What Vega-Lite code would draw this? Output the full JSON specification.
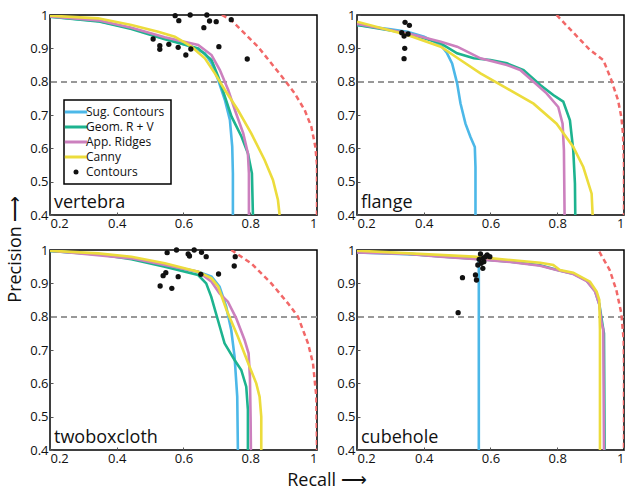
{
  "$schema": "https://vega.github.io/schema/vega-lite/v6.json",
  "padding": {"left": 6, "top": 8, "right": 2, "bottom": 2},
  "config": {
    "font": "Open Sans",
    "view": {"stroke": "#000000", "strokeWidth": 1.5},
    "axis": {"grid": false, "domain": false, "ticks": true, "tickSize": -3, "tickColor": "#555555", "labelFontSize": 13, "labelColor": "#111111", "labelPadding": 5, "title": null, "labelOverlap": false, "format": "~g"},
    "axisY": {"tickCount": 6},
    "axisX": {"tickCount": 4}
  },
  "datasets": {
    "pts": [
      {"p":"vertebra","s":"Sug. Contours","x":0.2,"y":0.995},{"p":"vertebra","s":"Sug. Contours","x":0.344,"y":0.982},{"p":"vertebra","s":"Sug. Contours","x":0.444,"y":0.96},{"p":"vertebra","s":"Sug. Contours","x":0.544,"y":0.93},{"p":"vertebra","s":"Sug. Contours","x":0.624,"y":0.905},{"p":"vertebra","s":"Sug. Contours","x":0.664,"y":0.885},{"p":"vertebra","s":"Sug. Contours","x":0.684,"y":0.855},{"p":"vertebra","s":"Sug. Contours","x":0.704,"y":0.805},{"p":"vertebra","s":"Sug. Contours","x":0.724,"y":0.745},{"p":"vertebra","s":"Sug. Contours","x":0.739,"y":0.685},{"p":"vertebra","s":"Sug. Contours","x":0.746,"y":0.605},{"p":"vertebra","s":"Sug. Contours","x":0.748,"y":0.525},{"p":"vertebra","s":"Sug. Contours","x":0.748,"y":0.4},
      {"p":"vertebra","s":"Geom. R + V","x":0.2,"y":0.995},{"p":"vertebra","s":"Geom. R + V","x":0.344,"y":0.981},{"p":"vertebra","s":"Geom. R + V","x":0.444,"y":0.958},{"p":"vertebra","s":"Geom. R + V","x":0.544,"y":0.927},{"p":"vertebra","s":"Geom. R + V","x":0.644,"y":0.9},{"p":"vertebra","s":"Geom. R + V","x":0.684,"y":0.865},{"p":"vertebra","s":"Geom. R + V","x":0.704,"y":0.815},{"p":"vertebra","s":"Geom. R + V","x":0.724,"y":0.755},{"p":"vertebra","s":"Geom. R + V","x":0.744,"y":0.695},{"p":"vertebra","s":"Geom. R + V","x":0.774,"y":0.635},{"p":"vertebra","s":"Geom. R + V","x":0.793,"y":0.585},{"p":"vertebra","s":"Geom. R + V","x":0.805,"y":0.525},{"p":"vertebra","s":"Geom. R + V","x":0.808,"y":0.4},
      {"p":"vertebra","s":"App. Ridges","x":0.2,"y":0.996},{"p":"vertebra","s":"App. Ridges","x":0.344,"y":0.984},{"p":"vertebra","s":"App. Ridges","x":0.444,"y":0.962},{"p":"vertebra","s":"App. Ridges","x":0.544,"y":0.933},{"p":"vertebra","s":"App. Ridges","x":0.644,"y":0.91},{"p":"vertebra","s":"App. Ridges","x":0.684,"y":0.88},{"p":"vertebra","s":"App. Ridges","x":0.709,"y":0.835},{"p":"vertebra","s":"App. Ridges","x":0.734,"y":0.775},{"p":"vertebra","s":"App. Ridges","x":0.754,"y":0.715},{"p":"vertebra","s":"App. Ridges","x":0.779,"y":0.645},{"p":"vertebra","s":"App. Ridges","x":0.793,"y":0.585},{"p":"vertebra","s":"App. Ridges","x":0.796,"y":0.525},{"p":"vertebra","s":"App. Ridges","x":0.796,"y":0.4},
      {"p":"vertebra","s":"Canny","x":0.2,"y":0.998},{"p":"vertebra","s":"Canny","x":0.344,"y":0.99},{"p":"vertebra","s":"Canny","x":0.444,"y":0.97},{"p":"vertebra","s":"Canny","x":0.524,"y":0.95},{"p":"vertebra","s":"Canny","x":0.574,"y":0.935},{"p":"vertebra","s":"Canny","x":0.624,"y":0.905},{"p":"vertebra","s":"Canny","x":0.664,"y":0.87},{"p":"vertebra","s":"Canny","x":0.694,"y":0.825},{"p":"vertebra","s":"Canny","x":0.724,"y":0.775},{"p":"vertebra","s":"Canny","x":0.763,"y":0.715},{"p":"vertebra","s":"Canny","x":0.803,"y":0.645},{"p":"vertebra","s":"Canny","x":0.843,"y":0.565},{"p":"vertebra","s":"Canny","x":0.868,"y":0.505},{"p":"vertebra","s":"Canny","x":0.883,"y":0.445},{"p":"vertebra","s":"Canny","x":0.888,"y":0.4},
      {"p":"vertebra","s":"Bound","x":0.715,"y":1.0},{"p":"vertebra","s":"Bound","x":0.743,"y":0.985},{"p":"vertebra","s":"Bound","x":0.783,"y":0.945},{"p":"vertebra","s":"Bound","x":0.823,"y":0.905},{"p":"vertebra","s":"Bound","x":0.863,"y":0.855},{"p":"vertebra","s":"Bound","x":0.903,"y":0.805},{"p":"vertebra","s":"Bound","x":0.933,"y":0.765},{"p":"vertebra","s":"Bound","x":0.963,"y":0.715},{"p":"vertebra","s":"Bound","x":0.983,"y":0.665},{"p":"vertebra","s":"Bound","x":0.995,"y":0.605},{"p":"vertebra","s":"Bound","x":1.0,"y":0.55},{"p":"vertebra","s":"Bound","x":1.0,"y":0.4},
      {"p":"vertebra","s":"Contours","x":0.575,"y":0.998},{"p":"vertebra","s":"Contours","x":0.586,"y":0.983},{"p":"vertebra","s":"Contours","x":0.62,"y":1.0},{"p":"vertebra","s":"Contours","x":0.67,"y":1.0},{"p":"vertebra","s":"Contours","x":0.678,"y":0.982},{"p":"vertebra","s":"Contours","x":0.698,"y":0.98},{"p":"vertebra","s":"Contours","x":0.661,"y":0.962},{"p":"vertebra","s":"Contours","x":0.743,"y":0.986},{"p":"vertebra","s":"Contours","x":0.509,"y":0.928},{"p":"vertebra","s":"Contours","x":0.529,"y":0.908},{"p":"vertebra","s":"Contours","x":0.529,"y":0.897},{"p":"vertebra","s":"Contours","x":0.556,"y":0.912},{"p":"vertebra","s":"Contours","x":0.584,"y":0.903},{"p":"vertebra","s":"Contours","x":0.607,"y":0.88},{"p":"vertebra","s":"Contours","x":0.622,"y":0.898},{"p":"vertebra","s":"Contours","x":0.706,"y":0.905},{"p":"vertebra","s":"Contours","x":0.791,"y":0.868},

      {"p":"flange","s":"Sug. Contours","x":0.2,"y":0.97},{"p":"flange","s":"Sug. Contours","x":0.301,"y":0.957},{"p":"flange","s":"Sug. Contours","x":0.351,"y":0.95},{"p":"flange","s":"Sug. Contours","x":0.401,"y":0.935},{"p":"flange","s":"Sug. Contours","x":0.451,"y":0.91},{"p":"flange","s":"Sug. Contours","x":0.47,"y":0.885},{"p":"flange","s":"Sug. Contours","x":0.485,"y":0.855},{"p":"flange","s":"Sug. Contours","x":0.5,"y":0.795},{"p":"flange","s":"Sug. Contours","x":0.51,"y":0.735},{"p":"flange","s":"Sug. Contours","x":0.525,"y":0.674},{"p":"flange","s":"Sug. Contours","x":0.54,"y":0.634},{"p":"flange","s":"Sug. Contours","x":0.553,"y":0.604},{"p":"flange","s":"Sug. Contours","x":0.555,"y":0.544},{"p":"flange","s":"Sug. Contours","x":0.555,"y":0.4},
      {"p":"flange","s":"Geom. R + V","x":0.2,"y":0.97},{"p":"flange","s":"Geom. R + V","x":0.351,"y":0.945},{"p":"flange","s":"Geom. R + V","x":0.451,"y":0.915},{"p":"flange","s":"Geom. R + V","x":0.5,"y":0.885},{"p":"flange","s":"Geom. R + V","x":0.55,"y":0.87},{"p":"flange","s":"Geom. R + V","x":0.6,"y":0.865},{"p":"flange","s":"Geom. R + V","x":0.649,"y":0.855},{"p":"flange","s":"Geom. R + V","x":0.699,"y":0.835},{"p":"flange","s":"Geom. R + V","x":0.749,"y":0.79},{"p":"flange","s":"Geom. R + V","x":0.788,"y":0.76},{"p":"flange","s":"Geom. R + V","x":0.818,"y":0.74},{"p":"flange","s":"Geom. R + V","x":0.838,"y":0.684},{"p":"flange","s":"Geom. R + V","x":0.848,"y":0.594},{"p":"flange","s":"Geom. R + V","x":0.853,"y":0.494},{"p":"flange","s":"Geom. R + V","x":0.854,"y":0.4},
      {"p":"flange","s":"App. Ridges","x":0.2,"y":0.973},{"p":"flange","s":"App. Ridges","x":0.351,"y":0.945},{"p":"flange","s":"App. Ridges","x":0.451,"y":0.92},{"p":"flange","s":"App. Ridges","x":0.5,"y":0.905},{"p":"flange","s":"App. Ridges","x":0.53,"y":0.89},{"p":"flange","s":"App. Ridges","x":0.57,"y":0.87},{"p":"flange","s":"App. Ridges","x":0.649,"y":0.85},{"p":"flange","s":"App. Ridges","x":0.689,"y":0.835},{"p":"flange","s":"App. Ridges","x":0.729,"y":0.8},{"p":"flange","s":"App. Ridges","x":0.768,"y":0.765},{"p":"flange","s":"App. Ridges","x":0.803,"y":0.724},{"p":"flange","s":"App. Ridges","x":0.816,"y":0.674},{"p":"flange","s":"App. Ridges","x":0.82,"y":0.594},{"p":"flange","s":"App. Ridges","x":0.822,"y":0.4},
      {"p":"flange","s":"Canny","x":0.2,"y":0.98},{"p":"flange","s":"Canny","x":0.351,"y":0.94},{"p":"flange","s":"Canny","x":0.451,"y":0.905},{"p":"flange","s":"Canny","x":0.51,"y":0.865},{"p":"flange","s":"Canny","x":0.57,"y":0.825},{"p":"flange","s":"Canny","x":0.649,"y":0.78},{"p":"flange","s":"Canny","x":0.729,"y":0.734},{"p":"flange","s":"Canny","x":0.798,"y":0.674},{"p":"flange","s":"Canny","x":0.848,"y":0.604},{"p":"flange","s":"Canny","x":0.878,"y":0.544},{"p":"flange","s":"Canny","x":0.903,"y":0.464},{"p":"flange","s":"Canny","x":0.906,"y":0.4},
      {"p":"flange","s":"Bound","x":0.798,"y":1.0},{"p":"flange","s":"Bound","x":0.898,"y":0.895},{"p":"flange","s":"Bound","x":0.938,"y":0.865},{"p":"flange","s":"Bound","x":0.962,"y":0.805},{"p":"flange","s":"Bound","x":0.982,"y":0.745},{"p":"flange","s":"Bound","x":0.992,"y":0.694},{"p":"flange","s":"Bound","x":0.997,"y":0.644},{"p":"flange","s":"Bound","x":1.0,"y":0.55},{"p":"flange","s":"Bound","x":1.0,"y":0.4},
      {"p":"flange","s":"Contours","x":0.344,"y":0.978},{"p":"flange","s":"Contours","x":0.357,"y":0.969},{"p":"flange","s":"Contours","x":0.334,"y":0.947},{"p":"flange","s":"Contours","x":0.341,"y":0.937},{"p":"flange","s":"Contours","x":0.353,"y":0.943},{"p":"flange","s":"Contours","x":0.343,"y":0.9},{"p":"flange","s":"Contours","x":0.341,"y":0.869},

      {"p":"twoboxcloth","s":"Sug. Contours","x":0.2,"y":0.997},{"p":"twoboxcloth","s":"Sug. Contours","x":0.344,"y":0.988},{"p":"twoboxcloth","s":"Sug. Contours","x":0.444,"y":0.975},{"p":"twoboxcloth","s":"Sug. Contours","x":0.544,"y":0.955},{"p":"twoboxcloth","s":"Sug. Contours","x":0.644,"y":0.935},{"p":"twoboxcloth","s":"Sug. Contours","x":0.684,"y":0.92},{"p":"twoboxcloth","s":"Sug. Contours","x":0.708,"y":0.89},{"p":"twoboxcloth","s":"Sug. Contours","x":0.728,"y":0.83},{"p":"twoboxcloth","s":"Sug. Contours","x":0.743,"y":0.76},{"p":"twoboxcloth","s":"Sug. Contours","x":0.753,"y":0.68},{"p":"twoboxcloth","s":"Sug. Contours","x":0.761,"y":0.56},{"p":"twoboxcloth","s":"Sug. Contours","x":0.763,"y":0.4},
      {"p":"twoboxcloth","s":"Geom. R + V","x":0.2,"y":0.997},{"p":"twoboxcloth","s":"Geom. R + V","x":0.344,"y":0.987},{"p":"twoboxcloth","s":"Geom. R + V","x":0.444,"y":0.972},{"p":"twoboxcloth","s":"Geom. R + V","x":0.544,"y":0.95},{"p":"twoboxcloth","s":"Geom. R + V","x":0.644,"y":0.925},{"p":"twoboxcloth","s":"Geom. R + V","x":0.668,"y":0.9},{"p":"twoboxcloth","s":"Geom. R + V","x":0.683,"y":0.86},{"p":"twoboxcloth","s":"Geom. R + V","x":0.703,"y":0.79},{"p":"twoboxcloth","s":"Geom. R + V","x":0.723,"y":0.72},{"p":"twoboxcloth","s":"Geom. R + V","x":0.753,"y":0.67},{"p":"twoboxcloth","s":"Geom. R + V","x":0.773,"y":0.64},{"p":"twoboxcloth","s":"Geom. R + V","x":0.788,"y":0.59},{"p":"twoboxcloth","s":"Geom. R + V","x":0.793,"y":0.52},{"p":"twoboxcloth","s":"Geom. R + V","x":0.793,"y":0.4},
      {"p":"twoboxcloth","s":"App. Ridges","x":0.2,"y":0.998},{"p":"twoboxcloth","s":"App. Ridges","x":0.444,"y":0.975},{"p":"twoboxcloth","s":"App. Ridges","x":0.544,"y":0.955},{"p":"twoboxcloth","s":"App. Ridges","x":0.644,"y":0.935},{"p":"twoboxcloth","s":"App. Ridges","x":0.684,"y":0.905},{"p":"twoboxcloth","s":"App. Ridges","x":0.708,"y":0.87},{"p":"twoboxcloth","s":"App. Ridges","x":0.733,"y":0.845},{"p":"twoboxcloth","s":"App. Ridges","x":0.758,"y":0.795},{"p":"twoboxcloth","s":"App. Ridges","x":0.783,"y":0.73},{"p":"twoboxcloth","s":"App. Ridges","x":0.795,"y":0.69},{"p":"twoboxcloth","s":"App. Ridges","x":0.799,"y":0.62},{"p":"twoboxcloth","s":"App. Ridges","x":0.801,"y":0.5},{"p":"twoboxcloth","s":"App. Ridges","x":0.802,"y":0.4},
      {"p":"twoboxcloth","s":"Canny","x":0.2,"y":0.998},{"p":"twoboxcloth","s":"Canny","x":0.344,"y":0.99},{"p":"twoboxcloth","s":"Canny","x":0.444,"y":0.98},{"p":"twoboxcloth","s":"Canny","x":0.544,"y":0.96},{"p":"twoboxcloth","s":"Canny","x":0.644,"y":0.935},{"p":"twoboxcloth","s":"Canny","x":0.684,"y":0.915},{"p":"twoboxcloth","s":"Canny","x":0.704,"y":0.89},{"p":"twoboxcloth","s":"Canny","x":0.729,"y":0.82},{"p":"twoboxcloth","s":"Canny","x":0.763,"y":0.74},{"p":"twoboxcloth","s":"Canny","x":0.798,"y":0.65},{"p":"twoboxcloth","s":"Canny","x":0.818,"y":0.6},{"p":"twoboxcloth","s":"Canny","x":0.828,"y":0.56},{"p":"twoboxcloth","s":"Canny","x":0.833,"y":0.5},{"p":"twoboxcloth","s":"Canny","x":0.833,"y":0.4},
      {"p":"twoboxcloth","s":"Bound","x":0.743,"y":1.0},{"p":"twoboxcloth","s":"Bound","x":0.803,"y":0.96},{"p":"twoboxcloth","s":"Bound","x":0.863,"y":0.9},{"p":"twoboxcloth","s":"Bound","x":0.913,"y":0.84},{"p":"twoboxcloth","s":"Bound","x":0.943,"y":0.8},{"p":"twoboxcloth","s":"Bound","x":0.973,"y":0.72},{"p":"twoboxcloth","s":"Bound","x":0.988,"y":0.66},{"p":"twoboxcloth","s":"Bound","x":0.998,"y":0.56},{"p":"twoboxcloth","s":"Bound","x":1.0,"y":0.4},
      {"p":"twoboxcloth","s":"Contours","x":0.551,"y":0.992},{"p":"twoboxcloth","s":"Contours","x":0.579,"y":1.0},{"p":"twoboxcloth","s":"Contours","x":0.614,"y":0.988},{"p":"twoboxcloth","s":"Contours","x":0.618,"y":0.982},{"p":"twoboxcloth","s":"Contours","x":0.632,"y":1.0},{"p":"twoboxcloth","s":"Contours","x":0.654,"y":0.993},{"p":"twoboxcloth","s":"Contours","x":0.668,"y":0.98},{"p":"twoboxcloth","s":"Contours","x":0.755,"y":0.98},{"p":"twoboxcloth","s":"Contours","x":0.752,"y":0.952},{"p":"twoboxcloth","s":"Contours","x":0.705,"y":0.928},{"p":"twoboxcloth","s":"Contours","x":0.652,"y":0.927},{"p":"twoboxcloth","s":"Contours","x":0.584,"y":0.92},{"p":"twoboxcloth","s":"Contours","x":0.539,"y":0.923},{"p":"twoboxcloth","s":"Contours","x":0.547,"y":0.932},{"p":"twoboxcloth","s":"Contours","x":0.53,"y":0.892},{"p":"twoboxcloth","s":"Contours","x":0.565,"y":0.885},

      {"p":"cubehole","s":"Sug. Contours","x":0.2,"y":0.993},{"p":"cubehole","s":"Sug. Contours","x":0.4,"y":0.985},{"p":"cubehole","s":"Sug. Contours","x":0.55,"y":0.977},{"p":"cubehole","s":"Sug. Contours","x":0.565,"y":0.975},{"p":"cubehole","s":"Sug. Contours","x":0.565,"y":0.4},
      {"p":"cubehole","s":"Geom. R + V","x":0.2,"y":0.994},{"p":"cubehole","s":"Geom. R + V","x":0.351,"y":0.989},{"p":"cubehole","s":"Geom. R + V","x":0.45,"y":0.981},{"p":"cubehole","s":"Geom. R + V","x":0.55,"y":0.974},{"p":"cubehole","s":"Geom. R + V","x":0.649,"y":0.966},{"p":"cubehole","s":"Geom. R + V","x":0.749,"y":0.954},{"p":"cubehole","s":"Geom. R + V","x":0.798,"y":0.941},{"p":"cubehole","s":"Geom. R + V","x":0.848,"y":0.929},{"p":"cubehole","s":"Geom. R + V","x":0.888,"y":0.908},{"p":"cubehole","s":"Geom. R + V","x":0.913,"y":0.878},{"p":"cubehole","s":"Geom. R + V","x":0.926,"y":0.838},{"p":"cubehole","s":"Geom. R + V","x":0.935,"y":0.78},{"p":"cubehole","s":"Geom. R + V","x":0.94,"y":0.75},{"p":"cubehole","s":"Geom. R + V","x":0.942,"y":0.4},
      {"p":"cubehole","s":"App. Ridges","x":0.2,"y":0.993},{"p":"cubehole","s":"App. Ridges","x":0.351,"y":0.988},{"p":"cubehole","s":"App. Ridges","x":0.45,"y":0.98},{"p":"cubehole","s":"App. Ridges","x":0.55,"y":0.973},{"p":"cubehole","s":"App. Ridges","x":0.649,"y":0.965},{"p":"cubehole","s":"App. Ridges","x":0.749,"y":0.953},{"p":"cubehole","s":"App. Ridges","x":0.798,"y":0.94},{"p":"cubehole","s":"App. Ridges","x":0.848,"y":0.928},{"p":"cubehole","s":"App. Ridges","x":0.888,"y":0.907},{"p":"cubehole","s":"App. Ridges","x":0.913,"y":0.876},{"p":"cubehole","s":"App. Ridges","x":0.926,"y":0.836},{"p":"cubehole","s":"App. Ridges","x":0.933,"y":0.78},{"p":"cubehole","s":"App. Ridges","x":0.938,"y":0.76},{"p":"cubehole","s":"App. Ridges","x":0.94,"y":0.4},
      {"p":"cubehole","s":"Canny","x":0.2,"y":0.998},{"p":"cubehole","s":"Canny","x":0.55,"y":0.98},{"p":"cubehole","s":"Canny","x":0.749,"y":0.962},{"p":"cubehole","s":"Canny","x":0.788,"y":0.955},{"p":"cubehole","s":"Canny","x":0.808,"y":0.94},{"p":"cubehole","s":"Canny","x":0.848,"y":0.932},{"p":"cubehole","s":"Canny","x":0.898,"y":0.905},{"p":"cubehole","s":"Canny","x":0.918,"y":0.875},{"p":"cubehole","s":"Canny","x":0.926,"y":0.85},{"p":"cubehole","s":"Canny","x":0.928,"y":0.76},{"p":"cubehole","s":"Canny","x":0.928,"y":0.4},
      {"p":"cubehole","s":"Bound","x":0.926,"y":0.995},{"p":"cubehole","s":"Bound","x":0.957,"y":0.94},{"p":"cubehole","s":"Bound","x":0.977,"y":0.88},{"p":"cubehole","s":"Bound","x":0.992,"y":0.81},{"p":"cubehole","s":"Bound","x":0.999,"y":0.73},{"p":"cubehole","s":"Bound","x":1.0,"y":0.66},{"p":"cubehole","s":"Bound","x":1.0,"y":0.4},
      {"p":"cubehole","s":"Contours","x":0.57,"y":0.988},{"p":"cubehole","s":"Contours","x":0.59,"y":0.985},{"p":"cubehole","s":"Contours","x":0.598,"y":0.98},{"p":"cubehole","s":"Contours","x":0.578,"y":0.975},{"p":"cubehole","s":"Contours","x":0.566,"y":0.972},{"p":"cubehole","s":"Contours","x":0.58,"y":0.965},{"p":"cubehole","s":"Contours","x":0.572,"y":0.96},{"p":"cubehole","s":"Contours","x":0.562,"y":0.955},{"p":"cubehole","s":"Contours","x":0.577,"y":0.945},{"p":"cubehole","s":"Contours","x":0.555,"y":0.925},{"p":"cubehole","s":"Contours","x":0.558,"y":0.91},{"p":"cubehole","s":"Contours","x":0.516,"y":0.917},{"p":"cubehole","s":"Contours","x":0.503,"y":0.812},{"p":"cubehole","s":"Contours","x":0.585,"y":0.98}
    ]
  },
  "data": {"name": "pts"},
  "title": {"text": "Precision ⟶", "orient": "left", "anchor": "middle", "fontSize": 18, "fontWeight": "normal", "color": "#111111", "offset": 4},
  "facet": {"field": "p", "type": "nominal", "sort": ["vertebra", "flange", "twoboxcloth", "cubehole"], "header": {"title": "Recall ⟶", "titleOrient": "bottom", "labels": false, "labelExpr": "''", "labelFontSize": 0, "labelPadding": 0, "titleFontSize": 18, "titleFontWeight": "normal", "titleColor": "#111111", "titlePadding": 22, "titleAnchor": "middle"}},
  "columns": 2,
  "spacing": {"row": 35, "column": 40},
  "bounds": "flush",
  "resolve": {"axis": {"x": "independent", "y": "independent"}},
  "spec": {
    "width": 267,
    "height": 200,
    "layer": [
      {
        "mark": {"type": "rule", "stroke": "#999999", "strokeDash": [6, 4], "strokeWidth": 1.2},
        "encoding": {"y": {"datum": 0.8, "type": "quantitative", "scale": {"domain": [0.4, 1], "nice": false, "zero": false}}}
      },
      {
        "transform": [{"filter": "datum.s === 'Bound'"}],
        "mark": {"type": "line", "stroke": "#f26868", "strokeDash": [5, 3.5], "strokeWidth": 2.5, "clip": true},
        "encoding": {
          "x": {"field": "x", "type": "quantitative", "scale": {"domain": [0.2, 1], "nice": false, "zero": false}},
          "y": {"field": "y", "type": "quantitative", "scale": {"domain": [0.4, 1], "nice": false, "zero": false}},
          "order": {"field": "y", "sort": "descending"}
        }
      },
      {
        "transform": [{"filter": "datum.s !== 'Bound' && datum.s !== 'Contours'"}],
        "mark": {"type": "line", "strokeWidth": 2.6, "clip": true},
        "encoding": {
          "x": {"field": "x", "type": "quantitative", "scale": {"domain": [0.2, 1], "nice": false, "zero": false}},
          "y": {"field": "y", "type": "quantitative", "scale": {"domain": [0.4, 1], "nice": false, "zero": false}},
          "order": {"field": "y", "sort": "descending"},
          "color": {
            "field": "s", "type": "nominal",
            "scale": {"domain": ["Sug. Contours", "Geom. R + V", "App. Ridges", "Canny", "Contours"], "range": ["#4cb8e8", "#1db38f", "#cc80be", "#ecdc3c", "#111111"]},
            "legend": {
              "title": null, "orient": "none", "legendX": 14, "legendY": 85,
              "strokeColor": "#000000", "fillColor": "#ffffff", "padding": 6,
              "labelFontSize": 12, "labelColor": "#111111", "symbolType": "stroke", "symbolStrokeWidth": 3, "symbolSize": 500, "rowPadding": 3, "labelOffset": 4,
              "encode": {
                "legend": {"update": {"strokeWidth": {"value": 1.5}}},
                "symbols": {"update": {
                  "shape": {"signal": "datum.value === 'Contours' ? 'circle' : 'stroke'"},
                  "size": {"signal": "datum.value === 'Contours' ? 25 : 500"},
                  "fill": {"signal": "datum.value === 'Contours' ? '#111111' : 'transparent'"},
                  "strokeWidth": {"signal": "datum.value === 'Contours' ? 0 : 3"}
                }}
              }
            }
          }
        }
      },
      {
        "transform": [{"filter": "datum.s === 'Contours'"}],
        "mark": {"type": "point", "filled": true, "size": 28, "opacity": 1, "clip": false},
        "encoding": {
          "x": {"field": "x", "type": "quantitative", "scale": {"domain": [0.2, 1], "nice": false, "zero": false}},
          "y": {"field": "y", "type": "quantitative", "scale": {"domain": [0.4, 1], "nice": false, "zero": false}},
          "color": {"field": "s", "type": "nominal"}
        }
      },
      {
        "transform": [{"aggregate": [{"op": "count", "as": "n"}], "groupby": ["p"]}],
        "mark": {"type": "text", "align": "left", "baseline": "bottom", "dx": 4, "dy": -3, "fontSize": 18, "color": "#111111"},
        "encoding": {
          "x": {"datum": 0.2, "type": "quantitative"},
          "y": {"datum": 0.4, "type": "quantitative"},
          "text": {"field": "p", "type": "nominal"}
        }
      }
    ]
  }
}
